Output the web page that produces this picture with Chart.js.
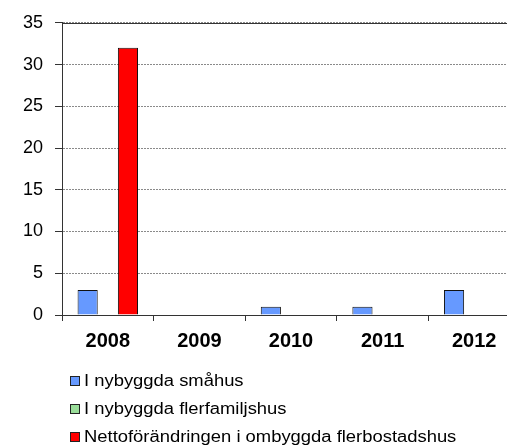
<!DOCTYPE html>
<html><head><meta charset="utf-8">
<script src="https://cdn.jsdelivr.net/npm/chart.js@4.4.1/dist/chart.umd.min.js"></script>
<style>
html,body{margin:0;padding:0;background:#fff;overflow:hidden;}
#wrap{position:relative;width:520px;height:448px;}
#c{position:absolute;left:0;top:0;}
#legend{position:absolute;left:70px;top:367px;font-family:"Liberation Sans",Arial,sans-serif;font-size:16px;color:#000;}
.item{display:flex;align-items:center;height:28px;white-space:nowrap;}
.box{width:8px;height:8px;border:1px solid #222;margin-right:4px;flex:none;}
.txt{display:inline-block;transform:scaleX(1.15);transform-origin:left center;}
</style></head><body>
<div id="wrap"><canvas id="c" width="520" height="448"></canvas><div id="legend"></div></div>
<script>
const categories = ['2008', '2009', '2010', '2011', '2012'];
const smahus = [3, 0, 1, 1, 3];
const flerfamiljshus = [0, 0, 0, 0, 0];
const ombyggda = [32, 0, 0, 0, 0];
const seriesNames = ['I nybyggda småhus', 'I nybyggda flerfamiljshus', 'Nettoförändringen i ombyggda flerbostadshus'];
const seriesColors = ['#6699FF', '#99DD99', '#FF0000'];
const yMin = 0, yMax = 35, yStep = 5;

const FONT = '"Liberation Sans", Arial, sans-serif';

const topLine = {
  id: 'topLine',
  afterDraw(chart) {
    const y = chart.scales.y.getPixelForValue(yMax);
    const ctx = chart.ctx;
    ctx.save();
    ctx.strokeStyle = '#333';
    ctx.lineWidth = 1;
    ctx.beginPath();
    ctx.moveTo(chart.chartArea.left, Math.round(y) + 0.5);
    ctx.lineTo(chart.chartArea.right, Math.round(y) + 0.5);
    ctx.stroke();
    ctx.restore();
  }
};

const seriesData = [smahus, flerfamiljshus, ombyggda];
const chart = new Chart(document.getElementById('c'), {
  type: 'bar',
  data: {
    labels: categories,
    datasets: seriesData.map((d, i) => ({
      label: seriesNames[i],
      data: d,
      backgroundColor: seriesColors[i],
      borderColor: '#111',
      borderWidth: 1,
      barPercentage: 1,
      categoryPercentage: 0.66
    }))
  },
  options: {
    responsive: false,
    animation: false,
    devicePixelRatio: 1,
    layout: { padding: { left: 0, top: 22, right: 0, bottom: 88 } },
    plugins: { legend: { display: false }, tooltip: { enabled: false } },
    scales: {
      x: {
        grid: { display: true, drawOnChartArea: false, drawTicks: true, tickLength: 6, color: '#333', offset: true },
        border: { color: '#333', width: 1 },
        ticks: { color: '#000', padding: 8, font: { family: FONT, size: 20, weight: 'bold' } },
        afterFit(s) { s.height = 45; }
      },
      y: {
        min: yMin, max: yMax,
        grid: { color: '#8a8a8a', tickColor: '#333', tickLength: 7, lineWidth: 1 },
        border: { color: '#333', width: 1, dash: [2, 1] },
        ticks: { stepSize: yStep, color: '#000', padding: 12, font: { family: FONT, size: 18 } },
        afterFit(s) { s.width = 62; }
      }
    }
  },
  plugins: [topLine]
});

const legend = document.getElementById('legend');
chart.data.datasets.forEach(ds => {
  const item = document.createElement('div');
  item.className = 'item';
  const box = document.createElement('span');
  box.className = 'box';
  box.style.background = ds.backgroundColor;
  const t = document.createElement('span');
  t.className = 'txt';
  t.textContent = ds.label;
  item.appendChild(box);
  item.appendChild(t);
  legend.appendChild(item);
});
</script>
</body></html>
